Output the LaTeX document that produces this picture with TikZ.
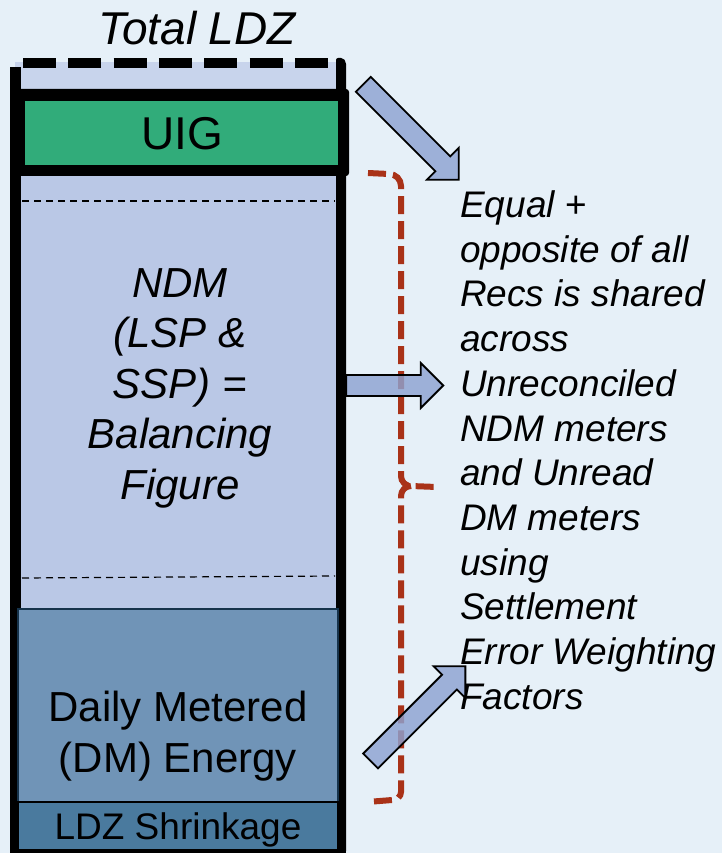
\documentclass[tikz,border=0pt]{standalone}
\usepackage{fontspec}
\setmainfont{Liberation Sans}
\usetikzlibrary{shapes.arrows}
\definecolor{bgblue}{HTML}{E6F0F8}
\definecolor{topband}{HTML}{C8D4EC}
\definecolor{ndmblue}{HTML}{BAC8E6}
\definecolor{uiggreen}{HTML}{31AC7A}
\definecolor{dmblue}{HTML}{7094B7}
\definecolor{dmedge}{HTML}{16334B}
\definecolor{shrinkblue}{HTML}{4A7A9E}
\definecolor{arrowblue}{HTML}{8EA3D1}
\definecolor{bracered}{HTML}{A93218}
\begin{document}
\begin{tikzpicture}[x=1pt,y=-1pt,
  blockarrow/.style={single arrow, draw=black, line width=1.8pt,
    fill=arrowblue, fill opacity=0.82, inner sep=0pt, inner ysep=9.6pt,
    minimum height=#1, single arrow head extend=12pt,
    single arrow tip angle=90},
  thindash/.style={line width=1.2pt, dash pattern=on 7pt off 5pt},
  brace/.style={draw=bracered, line width=6pt, dash pattern=on 18pt off 7pt},
  bigtxt/.style={font=\fontsize{46}{55}\selectfont, inner sep=0pt},
  midtxt/.style={font=\fontsize{42}{50.5}\selectfont, inner sep=0pt, align=center},
  smalltxt/.style={font=\fontsize{37}{44.7}\selectfont, inner sep=0pt}]

% page
\fill[bgblue] (0,0) rectangle (722,853);
\useasboundingbox (0,0) rectangle (722,853);

% column fills
\fill[topband] (15,62) rectangle (336,90);
\fill[ndmblue] (17,176) rectangle (338,608);
\draw[thindash] (22,201) -- (335,201);
\draw[thindash] (22,578) -- (335,576);

% outer black sides
\fill[black] (10,67) rectangle (21,853);
\fill[black, rounded corners=2pt] (336,58) -- (343,58) -- (346,62) -- (346,853) -- (336,853) -- cycle;

% daily metered and shrinkage bands
\filldraw[fill=dmblue, draw=dmedge, line width=1.6pt] (18,609) rectangle (338,802);
\filldraw[fill=shrinkblue, draw=black, line width=1.6pt] (18,802) rectangle (338,850);
\fill[black] (10,850) rectangle (346,853);

% UIG band
\fill[black, rounded corners=3pt] (10,89) rectangle (349,176);
\fill[uiggreen] (25,101) rectangle (338,165);

% dashed top edge
\draw[line width=10pt, dash pattern=on 33pt off 12.3pt] (23,63) -- (336,63);

% labels in the column
\node[bigtxt, font=\itshape\fontsize{46}{55}\selectfont, anchor=base] (total) at (197,45) {Total LDZ};
\node[bigtxt, anchor=base] (uig) at (182,150) {UIG};
\node[midtxt, font=\itshape\fontsize{42}{50.5}\selectfont, anchor=north] (ndm) at (180,268)
  {NDM\\(LSP \&\\SSP) =\\Balancing\\Figure};
\node[midtxt, anchor=north] (dm) at (178,691) {Daily Metered\\(DM) Energy};
\node[smalltxt, anchor=base] (shrink) at (178,839) {LDZ Shrinkage};

% explanation
\node[smalltxt, font=\itshape\fontsize{37}{44.7}\selectfont, align=left, anchor=north west] (note) at (460,190.5)
  {Equal {\upshape+}\\opposite of all\\Recs is shared\\across\\Unreconciled\\NDM meters\\and Unread\\DM meters\\using\\Settlement\\Error Weighting\\Factors};

% brace
\draw[brace] (368,173) -- (389,174) to[out=0,in=90] (401,186) -- (401,476)
  to[out=-90,in=180] (411,486) -- (437,487)
  (411,486) to[out=180,in=90] (401,496) -- (401,792)
  to[out=-90,in=0] (392,800) -- (367,802);

% arrows
\node[blockarrow=135pt, rotate=-45] (aUIG) at (407.3,128.3) {};
\node[blockarrow=97pt] (aNDM) at (389.5,385.5) {};
\node[blockarrow=134pt, rotate=45] (aDM) at (414.3,717.3) {};
\end{tikzpicture}
\end{document}
